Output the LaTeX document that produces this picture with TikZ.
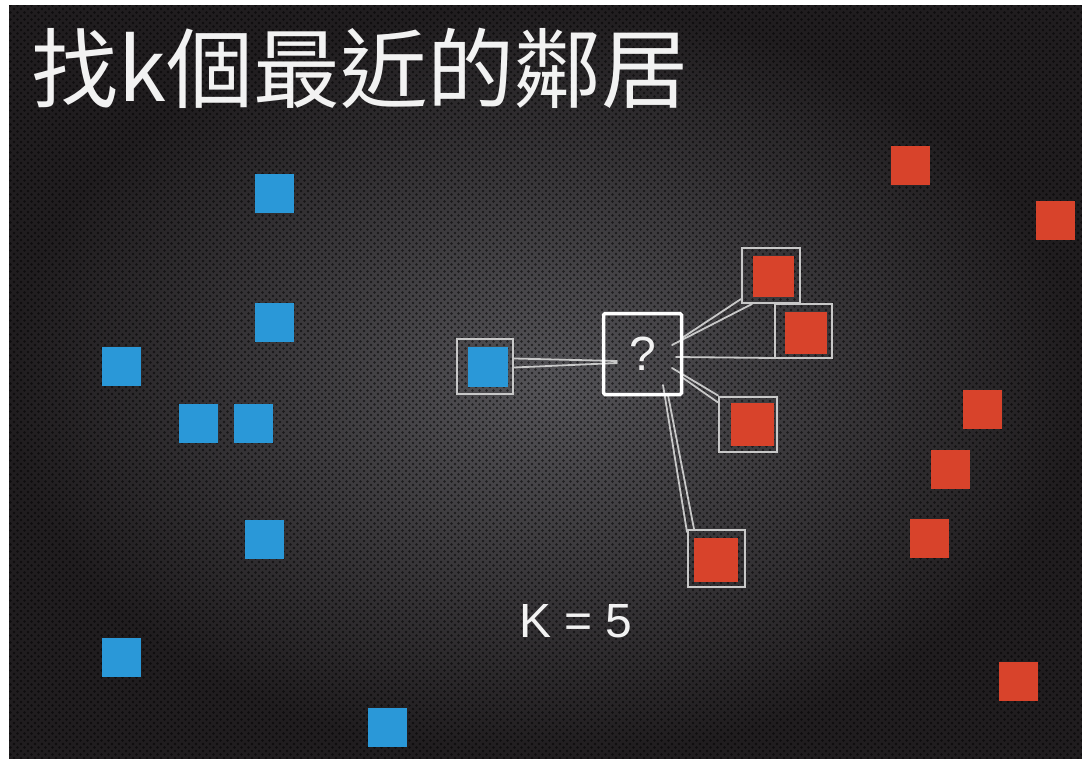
\documentclass[tikz,border=0pt]{standalone}
\usepackage{fontspec}
\setmainfont{Liberation Sans}
\newfontfamily\cjkfont{Noto Sans CJK TC}
\usetikzlibrary{patterns.meta}

\definecolor{bgin}{HTML}{545357}
\definecolor{bgout}{HTML}{201D1F}
\definecolor{pblue}{HTML}{2A98D8}
\definecolor{pred}{HTML}{D8432B}
\definecolor{boxline}{HTML}{C8C8C8}
\definecolor{txt}{HTML}{F2F2F2}

\begin{document}
\begin{tikzpicture}[x=1pt,y=-1pt,
  bluept/.style={fill=pblue, minimum size=39pt, inner sep=0pt},
  redpt/.style={fill=pred, minimum size=39pt, inner sep=0pt},
  ringbox/.style={draw=boxline, line width=2pt, minimum width=56pt, minimum height=55pt, inner sep=0pt},
  link/.style={draw=boxline, line width=1.8pt, line cap=round},
  querybox/.style={draw=white, line width=3.5pt, minimum width=78pt, minimum height=81pt, inner sep=0pt, rounded corners=1.5pt, text=txt, font=\fontsize{48}{48}\selectfont}
]
\useasboundingbox (0,0) rectangle (1082,758);
\fill[white] (0,0) rectangle (1082,758);
\shade[inner color=bgin, outer color=bgout] (9,5) rectangle (1082,758);
\fill[pattern={Dots[distance=7pt, radius=1.4pt]}, pattern color=black, fill opacity=0.55] (9,5) rectangle (1082,758);
\fill[pattern={Dots[distance=7pt, radius=1.4pt, xshift=3.5pt, yshift=3.5pt]}, pattern color=black, fill opacity=0.55] (9,5) rectangle (1082,758);

% title
\node[anchor=base west, text=txt, font=\cjkfont\fontsize{87}{87}\selectfont, inner sep=0pt] (title) at (31,101) {找k個最近的鄰居};

% blue points
\node[bluept] (b1) at (274,193) {};
\node[bluept] (b2) at (274,322) {};
\node[bluept] (b3) at (121,366) {};
\node[bluept] (b4) at (198,423) {};
\node[bluept] (b5) at (253,423) {};
\node[bluept] (b6) at (264,539) {};
\node[bluept] (b7) at (121,657) {};
\node[bluept] (b8) at (387,727) {};

% red points
\node[redpt] (r1) at (910,165) {};
\node[redpt] (r2) at (1055,220) {};
\node[redpt] (r3) at (982,409) {};
\node[redpt] (r4) at (950,469) {};
\node[redpt] (r5) at (929,538) {};
\node[redpt] (r6) at (1018,681) {};

% neighbours with rings
\node[ringbox] (rb) at (485,366.5) {};
\node[bluept, minimum size=40pt] (nb) at (488,367) {};
\node[ringbox, minimum width=58pt] (rr1) at (771,275.5) {};
\node[redpt, minimum size=41pt] (n1) at (773,276) {};
\node[ringbox, minimum width=57pt, minimum height=54pt] (rr2) at (803.5,331) {};
\node[redpt, minimum size=42pt] (n2) at (806,333) {};
\node[ringbox, minimum width=58pt] (rr3) at (748,424) {};
\node[redpt, minimum size=43pt] (n3) at (752,424) {};
\node[ringbox, minimum width=57pt, minimum height=57pt] (rr4) at (716.5,558.5) {};
\node[redpt, minimum size=44pt] (n4) at (716,560) {};

% end points inside the query box
\coordinate (qb1) at (617,361);
\coordinate (qb2) at (617,363);
\coordinate (q1a) at (682,338);
\coordinate (q1b) at (672,345);
\coordinate (q2a) at (676,357);
\coordinate (q3a) at (672,368);
\coordinate (q3b) at (683,378);
\coordinate (q4a) at (663,385);
\coordinate (q4b) at (668,395);

% connectors
\draw[link] ([yshift=8pt]rb.east) -- (qb1);
\draw[link] ([yshift=-1pt]rb.east) -- (qb2);
\draw[link] ([yshift=5pt]rr1.south west) -- (q1a);
\draw[link] ([xshift=11pt]rr1.south west) -- (q1b);
\draw[link] ([yshift=1pt]rr2.south west) -- (q2a);
\draw[link] (rr3.north west) -- (q3a);
\draw[link] ([yshift=-7pt]rr3.north west) -- (q3b);
\draw[link] ([yshift=-3pt]rr4.north west) -- (q4a);
\draw[link] ([xshift=7pt]rr4.north west) -- (q4b);

% query
\node[querybox] (q) at (642.5,354) {?};

% k label
\node[anchor=base, font=\fontsize{48}{48}\selectfont, text=txt, inner sep=0pt] (klabel) at (576,637) {K = 5};
\end{tikzpicture}
\end{document}
